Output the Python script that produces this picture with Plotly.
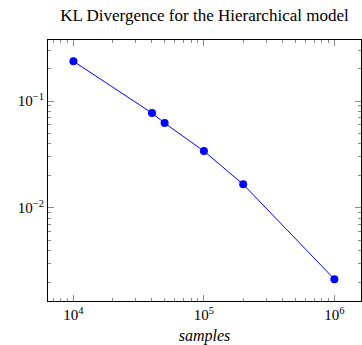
import plotly.graph_objects as go

samples = [1e4, 4e4, 5e4, 1e5, 2e5, 1e6]
kl_div = [0.236, 0.0772, 0.0622, 0.034, 0.0166, 0.00215]
x_tick_vals = [1e4, 1e5, 1e6]
x_tick_text = ["10<sup>4</sup>", "10<sup>5</sup>", "10<sup>6</sup>"]
y_tick_vals = [1e-2, 1e-1]
y_tick_text = ["10<sup>−2</sup>", "10<sup>−1</sup>"]
x_minor = [m * 10.0 ** e for e in range(3, 7) for m in range(2, 10)]
y_minor = [m * 10.0 ** e for e in range(-4, 0) for m in range(2, 10)]

font_fam = "Liberation Serif"

fig = go.Figure(go.Scatter(
    x=samples, y=kl_div, mode="lines+markers",
    line=dict(color="#0000ff", width=1),
    marker=dict(color="#0000ff", size=8),
))

axis_common = dict(
    type="log", showgrid=False, zeroline=False, automargin=False,
    showline=True, linecolor="black", linewidth=1, mirror="ticks",
    ticks="inside", ticklen=6, tickcolor="#888888",
    tickfont=dict(family=font_fam, size=15, color="black"),
)

fig.update_xaxes(**axis_common, range=[3.805, 6.204],
                 tickvals=x_tick_vals, ticktext=x_tick_text,
                 minor=dict(ticks="inside", ticklen=3, tickcolor="#888888", showgrid=False, tickvals=x_minor),
                 title=dict(text="<i>samples</i>", font=dict(family=font_fam, size=16, color="black"), standoff=10))
fig.update_yaxes(**axis_common, range=[-2.872, -0.428],
                 tickvals=y_tick_vals, ticktext=y_tick_text,
                 minor=dict(ticks="inside", ticklen=3, tickcolor="#888888", showgrid=False, tickvals=y_minor))

fig.update_layout(
    width=362, height=345,
    margin=dict(l=48, r=1, t=40, b=44),
    paper_bgcolor="white", plot_bgcolor="white",
    showlegend=False,
    title=dict(text="KL Divergence for the Hierarchical model", xref="paper", x=0.5, xanchor="center",
               yref="container", y=0.955, yanchor="middle",
               font=dict(family=font_fam, size=17, color="black")),
)

fig.write_html("out.html", config={"displayModeBar": False},
               post_script="document.body.style.margin='0';document.body.style.overflow='hidden';")
